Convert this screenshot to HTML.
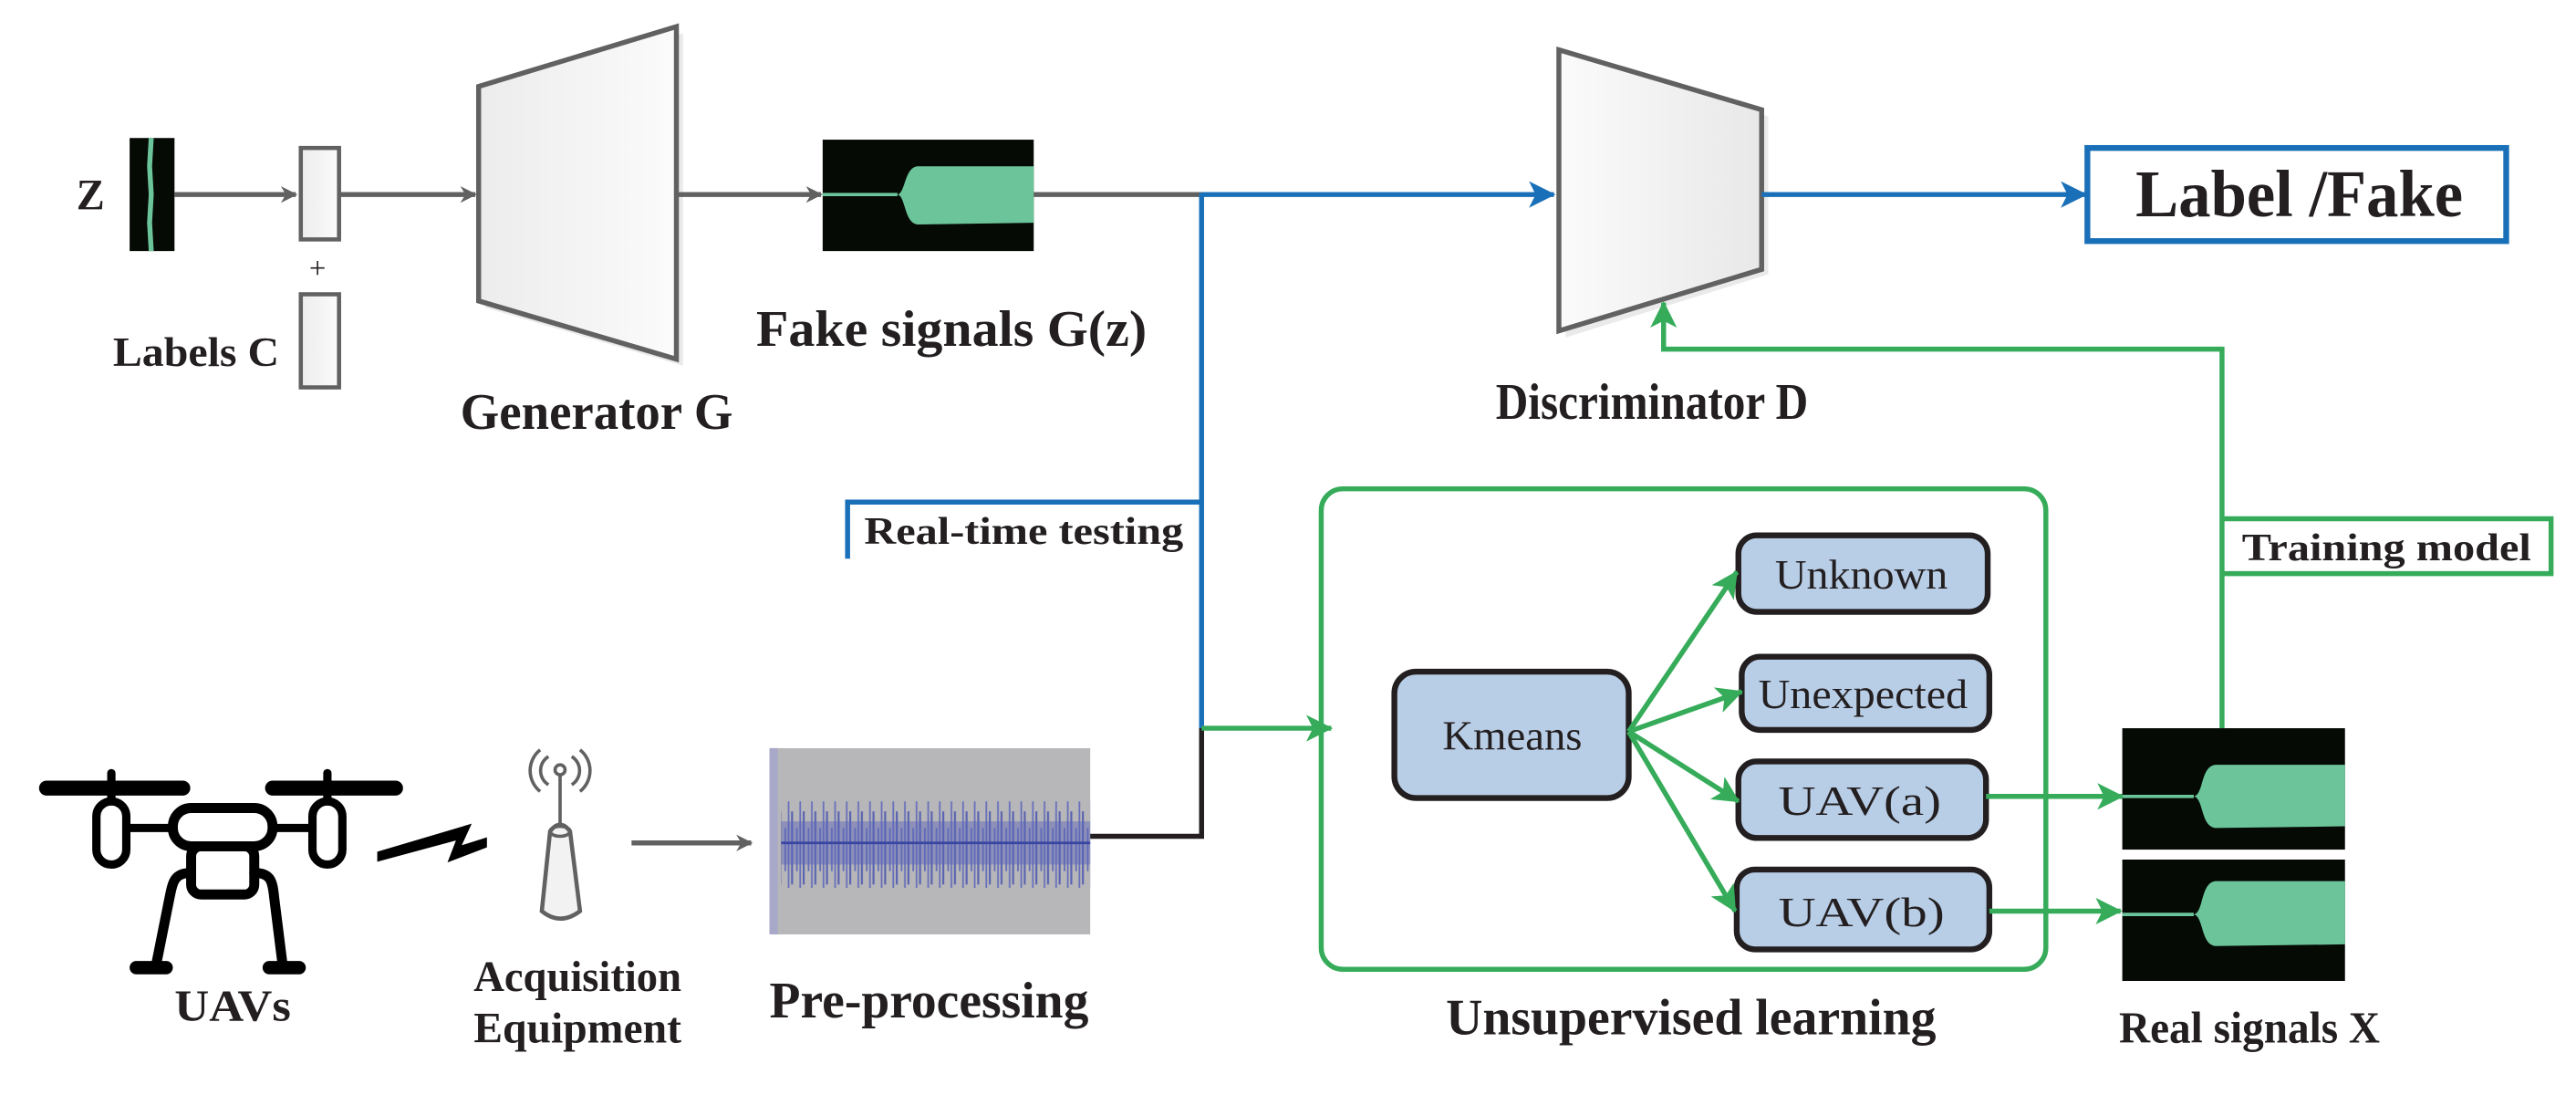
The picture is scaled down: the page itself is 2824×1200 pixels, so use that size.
<!DOCTYPE html>
<html><head><meta charset="utf-8"><style>
html,body{margin:0;padding:0;background:#fff;}
svg{display:block;}
text{font-family:"Liberation Serif",serif;}
.b{font-weight:bold;fill:#231f20;}
</style></head><body>
<svg width="2824" height="1200" viewBox="0 0 1550 658.6" preserveAspectRatio="none" xmlns="http://www.w3.org/2000/svg">
<defs>
<linearGradient id="g1" x1="0" x2="1"><stop offset="0" stop-color="#ececec"/><stop offset="1" stop-color="#fbfbfb"/></linearGradient>
<linearGradient id="g2" x1="0" x2="1"><stop offset="0" stop-color="#fbfbfb"/><stop offset="1" stop-color="#e8e8e8"/></linearGradient>
<marker id="ag" markerWidth="10" markerHeight="10" refX="9" refY="5" orient="auto" markerUnits="userSpaceOnUse"><path d="M0,0 L10,5 L0,10 L3,5z" fill="#616161"/></marker>
<marker id="ab" markerWidth="16" markerHeight="16" refX="15" refY="8" orient="auto" markerUnits="userSpaceOnUse"><path d="M0,0 L16,8 L0,16 L4,8z" fill="#1a70b8"/></marker>
<marker id="agr" markerWidth="16" markerHeight="16" refX="15" refY="8" orient="auto" markerUnits="userSpaceOnUse"><path d="M0,0 L16,8 L0,16 L4,8z" fill="#36ac5a"/></marker>
<pattern id="wav" width="7" height="60" patternUnits="userSpaceOnUse"><rect x="0" y="8" width="1.2" height="44" fill="#4a55b0"/><rect x="3" y="18" width="1" height="26" fill="#5560b8"/><rect x="5" y="2" width="1" height="56" fill="#5a64bb"/></pattern>
</defs>

<!-- Z signal -->
<text x="46" y="126" class="b" font-size="26" textLength="17" lengthAdjust="spacingAndGlyphs">Z</text>
<rect x="78" y="83" width="27" height="68" fill="#050a05"/>
<path d="M91,83 L90,100 L91,117 L90,134 L91,151" fill="none" stroke="#6cc59a" stroke-width="3"/>
<line x1="105" y1="117" x2="178" y2="117" stroke="#616161" stroke-width="3" marker-end="url(#ag)"/>
<rect x="181" y="89" width="23" height="55" fill="url(#g1)" stroke="#616161" stroke-width="2.5"/>
<text x="186" y="167" font-size="18" fill="#231f20">+</text>
<rect x="181" y="177" width="23" height="56" fill="url(#g1)" stroke="#616161" stroke-width="2.5"/>
<text x="68" y="220" class="b" font-size="25" textLength="100" lengthAdjust="spacingAndGlyphs">Labels C</text>
<line x1="204" y1="117" x2="286" y2="117" stroke="#616161" stroke-width="3" marker-end="url(#ag)"/>

<!-- Generator -->
<polygon points="292,56 411,20 411,220 292,185" fill="#dcdcdc" opacity="0.6"/>
<polygon points="288,52 407,16 407,216 288,181" fill="url(#g1)" stroke="#616161" stroke-width="3"/>
<text x="277" y="258" class="b" font-size="31" textLength="164" lengthAdjust="spacingAndGlyphs">Generator G</text>
<line x1="407" y1="117" x2="494" y2="117" stroke="#616161" stroke-width="3" marker-end="url(#ag)"/>

<!-- Fake signal -->
<rect x="495" y="84" width="127" height="67" fill="#050a05"/>
<line x1="495" y1="117" x2="540" y2="117" stroke="#6cc59a" stroke-width="2"/>
<path d="M540,117 C545,116 544,101 552,100 L622,100 L622,134 L552,135 C544,134 545,118 540,117z" fill="#6cc59a"/>
<text x="455" y="208" class="b" font-size="31" textLength="235" lengthAdjust="spacingAndGlyphs">Fake signals G(z)</text>

<!-- connectors -->
<line x1="622" y1="117" x2="725" y2="117" stroke="#616161" stroke-width="3"/>
<polyline points="723,117 935,117" fill="none" stroke="#1a70b8" stroke-width="3" marker-end="url(#ab)"/>
<line x1="723" y1="116" x2="723" y2="438" stroke="#1a70b8" stroke-width="3"/>
<polyline points="723,438 723,503 655,503" fill="none" stroke="#231f20" stroke-width="3"/>
<line x1="723" y1="438" x2="801" y2="438" stroke="#36ac5a" stroke-width="3" marker-end="url(#agr)"/>
<polyline points="723,302 510,302 510,336" fill="none" stroke="#1a70b8" stroke-width="3"/>
<text x="520" y="327" class="b" font-size="23" textLength="192" lengthAdjust="spacingAndGlyphs">Real-time testing</text>

<!-- Discriminator -->
<polygon points="942,34 1064,70 1064,165 942,203" fill="#dcdcdc" opacity="0.6"/>
<polygon points="938,30 1060,66 1060,162 938,199" fill="url(#g2)" stroke="#616161" stroke-width="3"/>
<text x="900" y="252" class="b" font-size="31" textLength="188" lengthAdjust="spacingAndGlyphs">Discriminator D</text>
<line x1="1060" y1="117" x2="1255" y2="117" stroke="#1a70b8" stroke-width="3" marker-end="url(#ab)"/>
<rect x="1256" y="89" width="252" height="56" fill="#fff" stroke="#1a70b8" stroke-width="3.5"/>
<text x="1285" y="130" class="b" font-size="40" textLength="197" lengthAdjust="spacingAndGlyphs">Label /Fake</text>

<!-- training path -->
<polyline points="1337,438 1337,210 1001,210 1001,182" fill="none" stroke="#36ac5a" stroke-width="3" marker-end="url(#agr)"/>
<polyline points="1337,312 1535,312 1535,345 1337,345" fill="none" stroke="#36ac5a" stroke-width="3"/>
<text x="1349" y="337" class="b" font-size="23" textLength="174" lengthAdjust="spacingAndGlyphs">Training model</text>

<!-- unsupervised -->
<rect x="795" y="294" width="436" height="289" rx="13" fill="none" stroke="#36ac5a" stroke-width="3"/>
<text x="870" y="622" class="b" font-size="31" textLength="295" lengthAdjust="spacingAndGlyphs">Unsupervised learning</text>
<g stroke="#231f20" stroke-width="3.5" fill="#b8cde6">
<rect x="839" y="404" width="141" height="76" rx="13"/>
<rect x="1046" y="322" width="150" height="46" rx="11"/>
<rect x="1048" y="395" width="149" height="44" rx="11"/>
<rect x="1046" y="458" width="149" height="46" rx="11"/>
<rect x="1045" y="523" width="152" height="48" rx="11"/>
</g>
<g font-size="25" fill="#231f20">
<text x="868" y="451" textLength="84" lengthAdjust="spacingAndGlyphs">Kmeans</text>
<text x="1068" y="354" textLength="104" lengthAdjust="spacingAndGlyphs">Unknown</text>
<text x="1058" y="426" textLength="126" lengthAdjust="spacingAndGlyphs">Unexpected</text>
<text x="1070" y="490" textLength="98" lengthAdjust="spacingAndGlyphs">UAV(a)</text>
<text x="1070" y="557" textLength="100" lengthAdjust="spacingAndGlyphs">UAV(b)</text>
</g>
<g stroke="#36ac5a" stroke-width="3" marker-end="url(#agr)">
<line x1="980" y1="440" x2="1045" y2="344"/>
<line x1="980" y1="440" x2="1048" y2="416"/>
<line x1="980" y1="440" x2="1046" y2="482"/>
<line x1="980" y1="440" x2="1044" y2="548"/>
<line x1="1195" y1="479" x2="1277" y2="479"/>
<line x1="1197" y1="548" x2="1276" y2="548"/>
</g>

<!-- real signals -->
<rect x="1277" y="438" width="134" height="73" fill="#050a05"/>
<line x1="1277" y1="479" x2="1320" y2="479" stroke="#6cc59a" stroke-width="2"/>
<path d="M1320,479 C1326,478 1324,461 1333,460 L1411,460 L1411,497 L1333,498 C1324,497 1326,480 1320,479z" fill="#6cc59a"/>
<rect x="1277" y="517" width="134" height="73" fill="#050a05"/>
<line x1="1277" y1="550" x2="1320" y2="550" stroke="#6cc59a" stroke-width="2"/>
<path d="M1320,550 C1326,549 1324,531 1333,530 L1411,530 L1411,568 L1333,569 C1324,568 1326,551 1320,550z" fill="#6cc59a"/>
<text x="1275" y="627" class="b" font-size="27" textLength="157" lengthAdjust="spacingAndGlyphs">Real signals X</text>

<!-- drone -->
<g stroke="#000" stroke-linecap="round" fill="none">
<line x1="28" y1="474" x2="110" y2="474" stroke-width="9"/>
<line x1="164" y1="474" x2="238" y2="474" stroke-width="9"/>
<line x1="67" y1="465" x2="67" y2="482" stroke-width="5"/>
<line x1="197" y1="465" x2="197" y2="482" stroke-width="5"/>
<rect x="58" y="482" width="18" height="38" rx="9" stroke-width="5"/>
<rect x="188" y="482" width="18" height="38" rx="9" stroke-width="5"/>
<line x1="76" y1="498" x2="188" y2="498" stroke-width="5"/>
<rect x="104" y="486" width="60" height="23" rx="11" fill="#fff" stroke-width="6"/>
<rect x="115" y="509" width="38" height="29" rx="6" stroke-width="6"/>
<path d="M115,525 C105,525 104,530 102,540 L94,580" stroke-width="6"/>
<path d="M153,525 C163,525 164,530 165,540 L170,580" stroke-width="6"/>
<line x1="82" y1="582" x2="100" y2="582" stroke-width="8"/>
<line x1="162" y1="582" x2="180" y2="582" stroke-width="8"/>
</g>
<text x="105" y="614" class="b" font-size="27" textLength="70" lengthAdjust="spacingAndGlyphs">UAVs</text>
<!-- zigzag -->
<polygon points="228,513 282,497 276,510 292,505 292,509 271,517 276,504 228,517" fill="#000" stroke="#000" stroke-width="2"/>
<!-- antenna -->
<g stroke="#616161" fill="none" stroke-width="2">
<circle cx="337" cy="463" r="3"/>
<line x1="337" y1="466" x2="337" y2="495"/>
<path d="M330,455 A10,10 0 0 0 330,472"/><path d="M344,455 A10,10 0 0 1 344,472"/>
<path d="M325,451 A16,16 0 0 0 325,476"/><path d="M349,451 A16,16 0 0 1 349,476"/>
<path d="M331,500 Q337,492 343,500 L349,548 Q337,557 326,548 Z" fill="#f2f2f2" stroke-width="2.5"/>
<ellipse cx="337" cy="500" rx="6" ry="3"/>
</g>
<text x="285" y="596" class="b" font-size="26" textLength="125" lengthAdjust="spacingAndGlyphs">Acquisition</text>
<text x="285" y="627" class="b" font-size="26" textLength="125" lengthAdjust="spacingAndGlyphs">Equipment</text>
<line x1="380" y1="507" x2="452" y2="507" stroke="#616161" stroke-width="3" marker-end="url(#ag)"/>

<!-- pre-processing -->
<rect x="463" y="450" width="193" height="112" fill="#b7b7b9"/>
<rect x="463" y="450" width="5" height="112" fill="#a8a8c8"/>
<rect x="470" y="480" width="186" height="54" fill="url(#wav)" opacity="0.85"/>
<rect x="470" y="494" width="186" height="26" fill="#5a64bb" opacity="0.45"/>
<line x1="470" y1="507" x2="656" y2="507" stroke="#3a45a0" stroke-width="1.5"/>
<text x="463" y="612" class="b" font-size="31" textLength="192" lengthAdjust="spacingAndGlyphs">Pre-processing</text>
</svg>
</body></html>
